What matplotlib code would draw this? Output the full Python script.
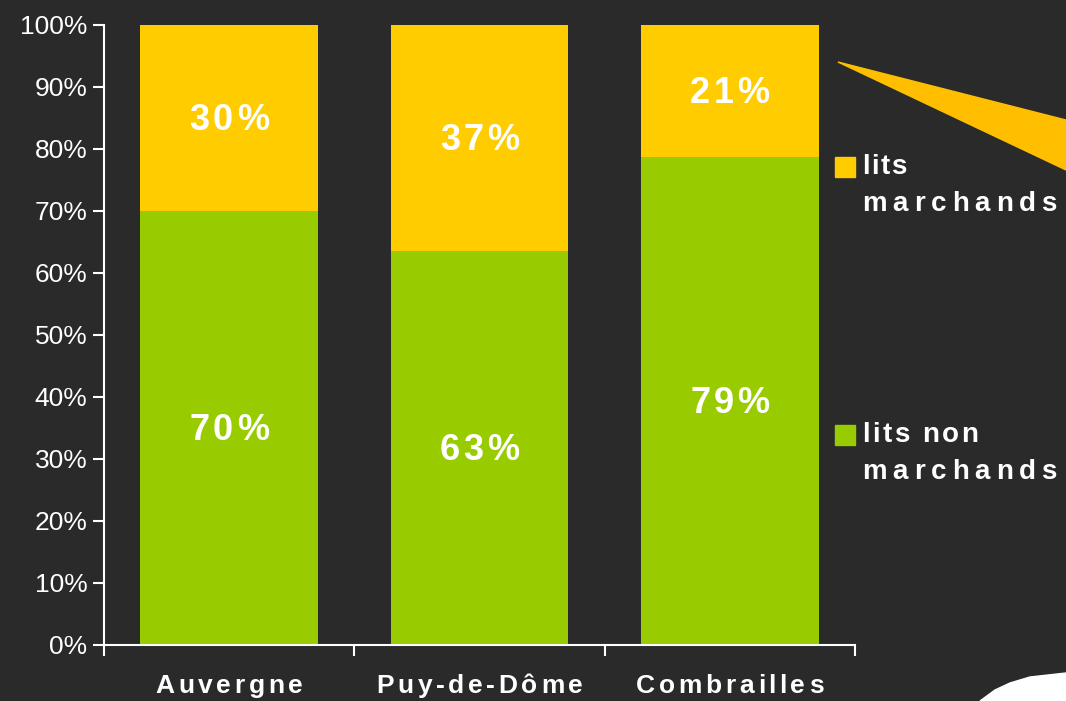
import matplotlib
matplotlib.use("Agg")
import matplotlib.pyplot as plt
from matplotlib.patches import Rectangle, Polygon
from matplotlib.font_manager import FontProperties
from matplotlib.textpath import TextToPath
from matplotlib.transforms import offset_copy

plt.rcParams['font.family'] = ['Liberation Sans', 'DejaVu Sans']

regions = ["Auvergne", "Puy-de-Dôme", "Combrailles"]
non_marchands = [70, 63.5, 78.7]
marchands = [30, 36.5, 21.3]
labels_non = ["70%", "63%", "79%"]
labels_mar = ["30%", "37%", "21%"]

bg = "#2a2a2a"
green = "#99cc00"
yellow = "#ffcc00"

fig = plt.figure(figsize=(10.66, 7.01), dpi=100, facecolor=bg)
ax = fig.add_axes([104/1066, 1 - 645/701, (855 - 104)/1066, 620/701])
ax.set_facecolor(bg)

t2p = TextToPath()


def spaced_text(x, y, s, size, spacing, transform, ha="center", va="center", dy=0):
    # draw a string char by char with extra letter spacing (in points)
    prop = FontProperties(family="Liberation Sans", weight="bold", size=size)
    widths = [t2p.get_text_width_height_descent(c, prop, ismath=False)[0] for c in s]
    total = sum(widths) + spacing * (len(s) - 1)
    if ha == "center":
        start = -total / 2
    else:
        start = 0
    pos = start
    for c, w in zip(s, widths):
        tr = offset_copy(transform, fig=fig, x=pos, y=dy, units="points")
        fig.text(x, y, c, transform=tr, fontproperties=prop, color="white",
                 ha="left", va=va)
        pos += w + spacing


x = [i + 0.5 for i in range(len(regions))]
ax.bar(x, non_marchands, width=0.71, color=green)
ax.bar(x, marchands, width=0.71, bottom=non_marchands, color=yellow)

for xi, g, y, lg, ly in zip(x, non_marchands, marchands, labels_non, labels_mar):
    spaced_text(xi, g / 2, lg, 26, 2.6, ax.transData, dy=-2)
    spaced_text(xi, g + y / 2, ly, 26, 2.6, ax.transData, dy=-2)

ax.set_xlim(0, 3)
ax.set_ylim(0, 100)
ax.set_yticks(range(0, 101, 10))
ax.set_yticklabels([f"{v}%" for v in range(0, 101, 10)], color="white", fontsize=19)
ax.set_xticks([0, 1, 2, 3])
ax.set_xticklabels([])
for xi, name in zip(x, regions):
    spaced_text(xi, -6.6, name, 19, 2.6, ax.transData)
ax.tick_params(axis="y", colors="white", length=8, width=1.5, pad=4)
ax.tick_params(axis="x", colors="white", length=8, width=1.5)
for s in ["top", "right"]:
    ax.spines[s].set_visible(False)
for s in ["left", "bottom"]:
    ax.spines[s].set_color("white")
    ax.spines[s].set_linewidth(1.5)

# legend
W, H = 1066, 701
def fx(px):
    return px / W
def fy(py):
    return 1 - py / H

fig.patches.append(Rectangle((fx(835), fy(177)), 20 / W, 20 / H, color=yellow,
                             transform=fig.transFigure))
fig.patches.append(Rectangle((fx(835), fy(445)), 20 / W, 20 / H, color=green,
                             transform=fig.transFigure))
spaced_text(fx(862), fy(167), "lits", 20, 1.0, fig.transFigure, ha="left")
spaced_text(fx(862), fy(204), "marchands", 20, 4.2, fig.transFigure, ha="left")
spaced_text(fx(862), fy(435), "lits non", 20, 1.8, fig.transFigure, ha="left")
spaced_text(fx(862), fy(472), "marchands", 20, 4.2, fig.transFigure, ha="left")

# decorative callout and corner
fig.patches.append(Polygon([(fx(838), fy(62)), (fx(1066), fy(120)), (fx(1066), fy(170))],
                           closed=True, color="#ffbf00", transform=fig.transFigure))
fig.patches.append(Polygon([(fx(980), fy(701)), (fx(995), fy(690)), (fx(1010), fy(683)),
                            (fx(1030), fy(677)), (fx(1066), fy(673)), (fx(1066), fy(701))],
                           closed=True, color="white", transform=fig.transFigure))

fig.savefig("out.png", dpi=100, facecolor=bg)
